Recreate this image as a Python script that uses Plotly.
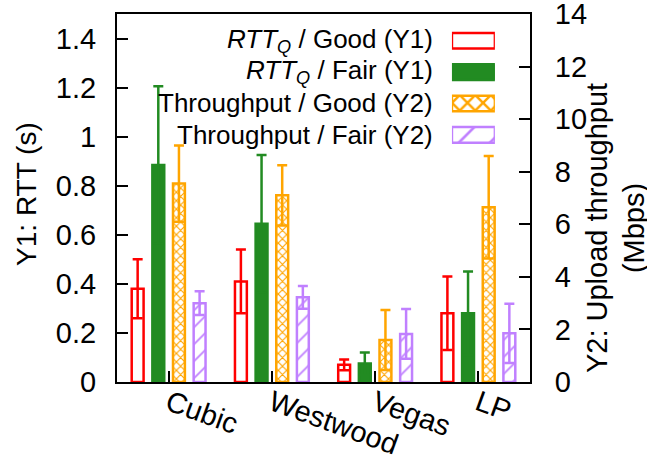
import plotly.graph_objects as go

# Congestion-control algorithms on the x axis
algorithms = ["Cubic", "Westwood", "Vegas", "LP"]

# Queueing RTT (seconds), mean and error, for good / fair links (left axis)
rtt_good = [0.38, 0.41, 0.07, 0.28]
rtt_good_err = [0.12, 0.13, 0.022, 0.15]
rtt_fair = [0.885, 0.645, 0.075, 0.28]
rtt_fair_err = [0.32, 0.28, 0.045, 0.17]

# Upload throughput (Mbps), mean and error, for good / fair links (right axis)
tput_good = [7.55, 7.1, 1.6, 6.65]
tput_good_err = [1.45, 1.15, 1.14, 1.95]
tput_fair = [3.0, 3.22, 1.83, 1.85]
tput_fair_err = [0.45, 0.43, 0.95, 1.13]

legend_labels = [
    "<i>RTT<sub>Q</sub></i> / Good (Y1)",
    "<i>RTT<sub>Q</sub></i> / Fair (Y1)",
    "Throughput / Good (Y2)",
    "Throughput / Fair (Y2)",
]

y1_ticks = [0, 0.2, 0.4, 0.6, 0.8, 1, 1.2, 1.4]
y2_ticks = [0, 2, 4, 6, 8, 10, 12, 14]

RED = "#ff0000"
GREEN = "#228b22"
ORANGE = "#ffa500"
PURPLE = "#c080ff"
FONT = "Liberation Sans, Arial, sans-serif"

BAR_W = 0.115
STEP = 0.2

series = [
    dict(y=rtt_good, err=rtt_good_err, axis="y", color=RED,
         fill="white", pattern=None),
    dict(y=rtt_fair, err=rtt_fair_err, axis="y", color=GREEN,
         fill=GREEN, pattern=None),
    dict(y=tput_good, err=tput_good_err, axis="y2", color=ORANGE,
         fill="white", pattern=dict(shape="x", size=6, solidity=0.35,
                                    fgcolor=ORANGE, bgcolor="white",
                                    fillmode="replace")),
    dict(y=tput_fair, err=tput_fair_err, axis="y2", color=PURPLE,
         fill="white", pattern=dict(shape="/", size=12, solidity=0.15,
                                    fgcolor=PURPLE, bgcolor="white",
                                    fillmode="replace")),
]

fig = go.Figure()

for i, s in enumerate(series):
    center = (i - 1.5) * STEP
    marker = dict(color=s["fill"], line=dict(color=s["color"], width=2.5))
    if s["pattern"]:
        marker["pattern"] = s["pattern"]
    fig.add_trace(go.Bar(
        x=algorithms, y=s["y"], yaxis=s["axis"],
        offset=center - BAR_W / 2, width=BAR_W,
        marker=marker,
        error_y=dict(type="data", array=s["err"], visible=True,
                     color=s["color"], thickness=2.5, width=5),
        showlegend=False,
    ))

# Legend swatches: small horizontal bars in their own little subplot
swatch_patterns = [
    None, None,
    dict(shape="x", size=11, solidity=0.4, fgcolor=ORANGE, bgcolor="white",
         fillmode="replace"),
    dict(shape="/", size=22, solidity=0.12, fgcolor=PURPLE, bgcolor="white",
         fillmode="replace"),
]
for i, s in enumerate(series):
    marker = dict(color=s["fill"], line=dict(color=s["color"], width=2.5))
    if swatch_patterns[i]:
        marker["pattern"] = swatch_patterns[i]
    fig.add_trace(go.Bar(
        x=[1], y=[i], base=0, orientation="h", width=0.5,
        xaxis="x3", yaxis="y3", marker=marker, cliponaxis=False,
        showlegend=False, hoverinfo="skip",
    ))

annotations = []
legend_y = [0.927, 0.843, 0.757, 0.671]
for lbl, yy in zip(legend_labels, legend_y):
    annotations.append(dict(
        text=lbl, xref="paper", yref="paper", x=0.770, y=yy,
        xanchor="right", yanchor="middle", showarrow=False,
        font=dict(family=FONT, size=26, color="black"),
    ))

annotations.append(dict(
    text="Y1: RTT (s)", xref="paper", yref="paper", x=-0.218, y=0.511,
    textangle=-90, showarrow=False, xanchor="center", yanchor="middle",
    font=dict(family=FONT, size=28, color="black"),
))
annotations.append(dict(
    text="Y2: Upload throughput<br>(Mbps)", xref="paper", yref="paper",
    x=1.208, y=0.418, textangle=-90, showarrow=False,
    xanchor="center", yanchor="middle",
    font=dict(family=FONT, size=29, color="black"),
))

axis_common = dict(showgrid=False, zeroline=False, showline=True,
                   linecolor="black", linewidth=2, ticks="inside",
                   ticklen=11, tickwidth=2, tickcolor="black",
                   automargin=False,
                   tickfont=dict(family=FONT, size=29, color="black"))

fig.update_layout(
    width=647, height=458,
    margin=dict(l=117, r=117, t=14, b=76),
    paper_bgcolor="white", plot_bgcolor="white",
    barmode="overlay",
    xaxis=dict(**axis_common, type="category", range=[-0.5, 3.5],
               mirror=True, tickangle=20, ticklabelstandoff=-9),
    yaxis=dict(**axis_common, range=[0, 1.5], tickvals=y1_ticks,
               ticktext=[f"{v:g}" for v in y1_ticks], ticklabelstandoff=13),
    yaxis2=dict(**axis_common, range=[0, 14.0001], tickvals=y2_ticks,
                overlaying="y", side="right", ticklabelstandoff=17,
                ticklabeloverflow="allow"),
    xaxis3=dict(domain=[0.811, 0.915], range=[0, 1], visible=False,
                anchor="y3"),
    yaxis3=dict(domain=[0.629, 0.970], range=[3.5, -0.5], visible=False,
                anchor="x3"),
    annotations=annotations,
    showlegend=False,
)

fig.write_html("out.html")
